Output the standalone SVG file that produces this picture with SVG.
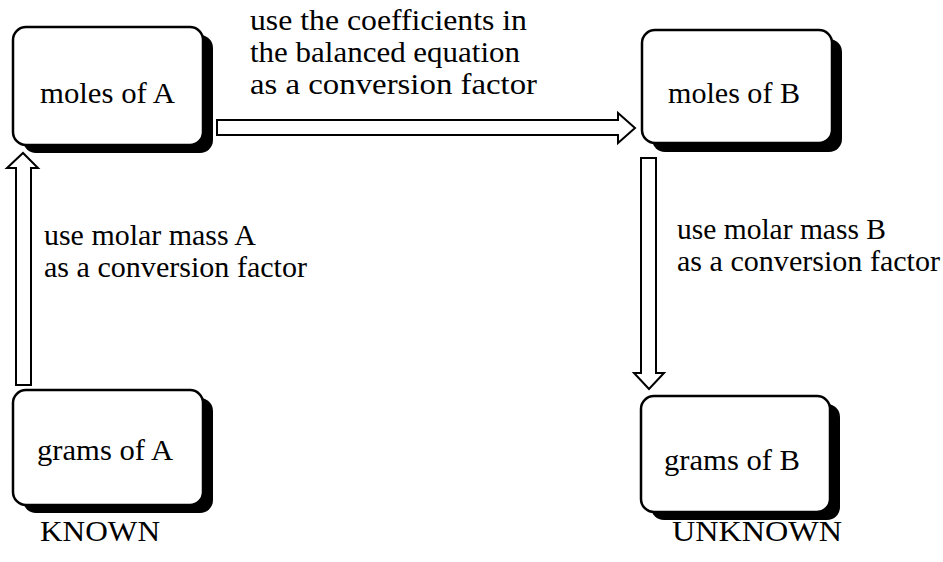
<svg xmlns="http://www.w3.org/2000/svg" width="943" height="562" viewBox="0 0 943 562">
<style>
.shadow{fill:#000;}
.box{fill:#fff;stroke:#000;stroke-width:2.5;}
.arrow{fill:#fff;stroke:#000;stroke-width:2;stroke-linejoin:miter;}
text{font-family:"Liberation Serif","Times New Roman",serif;font-size:29px;fill:#000;}
</style>
<rect width="943" height="562" fill="#fff"/>
<g id="connectors">
  <path class="arrow" d="M217,120 L618,120 L618,113 L635,128 L618,143 L618,135 L217,135 Z"/>
  <path class="arrow" d="M16,385 L16,168 L7,168 L23,153 L38,168 L31,168 L31,385 Z"/>
  <path class="arrow" d="M641,158 L656,158 L656,373 L664,373 L649,389 L634,373 L641,373 Z"/>
</g>
<g id="label-top">
  <text x="250" y="30" textLength="277" lengthAdjust="spacingAndGlyphs">use the coefficients in</text>
  <text x="250" y="62" textLength="270" lengthAdjust="spacingAndGlyphs">the balanced equation</text>
  <text x="250" y="94" textLength="287" lengthAdjust="spacingAndGlyphs">as a conversion factor</text>
</g>
<g id="label-left">
  <text x="44" y="245" textLength="212" lengthAdjust="spacingAndGlyphs">use molar mass A</text>
  <text x="44" y="277" textLength="263" lengthAdjust="spacingAndGlyphs">as a conversion factor</text>
</g>
<g id="label-right">
  <text x="677" y="239" textLength="209" lengthAdjust="spacingAndGlyphs">use molar mass B</text>
  <text x="677" y="271" textLength="263" lengthAdjust="spacingAndGlyphs">as a conversion factor</text>
</g>
<g id="node-moles-a">
  <rect class="shadow" x="23" y="35" width="190" height="118" rx="13"/>
  <rect class="box" x="13" y="27" width="190" height="118" rx="13"/>
  <text x="40" y="103" textLength="135" lengthAdjust="spacingAndGlyphs">moles of A</text>
</g>
<g id="node-moles-b">
  <rect class="shadow" x="652" y="39" width="190" height="113" rx="13"/>
  <rect class="box" x="642" y="30" width="190" height="113" rx="13"/>
  <text x="668" y="103" textLength="132" lengthAdjust="spacingAndGlyphs">moles of B</text>
</g>
<g id="node-grams-a">
  <rect class="shadow" x="23" y="398" width="190" height="115" rx="13"/>
  <rect class="box" x="13" y="390" width="190" height="115" rx="13"/>
  <text x="37" y="460" textLength="136" lengthAdjust="spacingAndGlyphs">grams of A</text>
</g>
<g id="node-grams-b">
  <rect class="shadow" x="651" y="404" width="189" height="116" rx="13"/>
  <rect class="box" x="641" y="396" width="189" height="116" rx="13"/>
  <text x="664" y="470" textLength="136" lengthAdjust="spacingAndGlyphs">grams of B</text>
</g>
<g id="caption-known">
  <text x="40" y="541" textLength="120" lengthAdjust="spacingAndGlyphs">KNOWN</text>
</g>
<g id="caption-unknown">
  <text x="672" y="541" textLength="170" lengthAdjust="spacingAndGlyphs">UNKNOWN</text>
</g>
</svg>
